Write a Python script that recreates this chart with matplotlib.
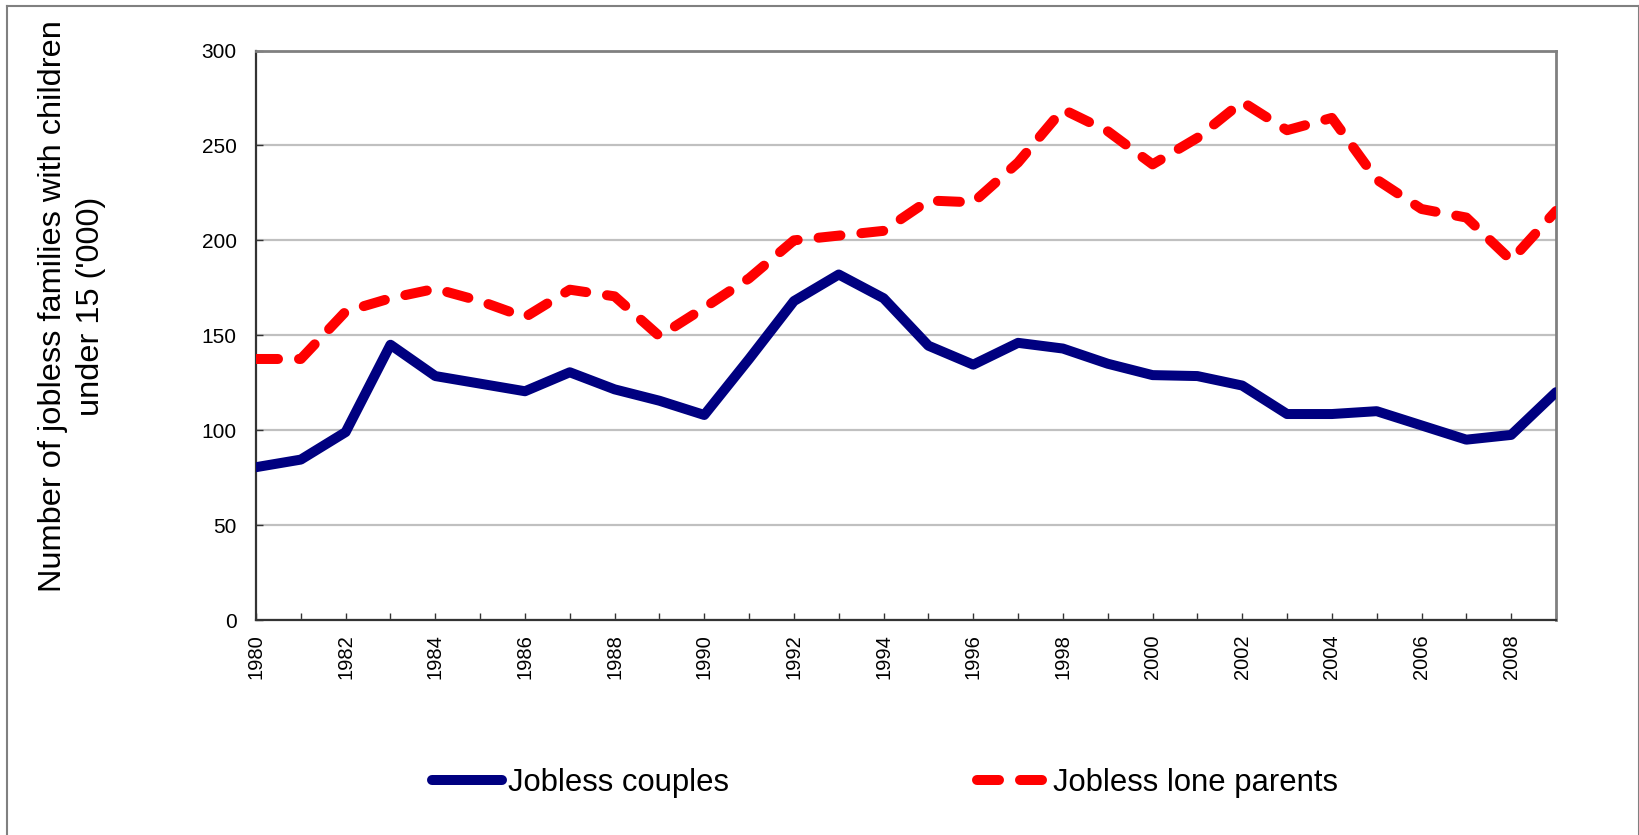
import matplotlib
matplotlib.use("Agg")
import matplotlib.pyplot as plt
from matplotlib.lines import Line2D

plt.rcParams['font.family'] = ['Liberation Sans', 'DejaVu Sans']

years = list(range(1980, 2010))
couples = [80.5, 84.5, 99, 145, 128.5, 124.5, 120.5, 130.5, 121.5, 115.5,
           108, 137.5, 168, 182, 169.5, 144.5, 134.5, 146, 143, 135,
           129, 128.5, 123.5, 108.5, 108.5, 110, 102.5, 95, 97.5, 120]
lone_parents = [137.5, 137.5, 162.5, 169.5, 174.5, 168, 159.5, 174, 170.5, 149.5,
                164.5, 180, 200, 202.5, 205, 221, 220, 241, 269, 257.5,
                240, 254, 273, 258, 264.5, 232, 216.5, 212, 189.5, 215.5]
labels = ["Jobless couples", "Jobless lone parents"]
y_ticks = [0, 50, 100, 150, 200, 250, 300]
x_label_years = list(range(1980, 2009, 2))
ylabel = "Number of jobless families with children\nunder 15 ('000)"

W, H = 1640, 835
fig = plt.figure(figsize=(W / 100, H / 100), dpi=100)
ax = fig.add_axes([256 / W, 1 - 620 / H, (1556 - 256) / W, (620 - 50.5) / H])

lw = 7.2
l1, = ax.plot(years, couples, color='#000080', lw=lw,
              solid_capstyle='round', solid_joinstyle='round', label=labels[0], zorder=3)
l2, = ax.plot(years, lone_parents, color='#FF0000', lw=lw, linestyle=(0, (2.2, 2.1)),
              dash_capstyle='round', dash_joinstyle='round', label=labels[1], zorder=3)

ax.set_xlim(1980, 2009)
ax.set_ylim(0, 300)
ax.set_yticks(y_ticks)
ax.set_xticks(x_label_years)
ax.set_xticks(years, minor=True)
ax.set_xticklabels([str(y) for y in x_label_years], rotation=90)
ax.tick_params(axis='x', which='both', direction='in', length=5, width=1, color='#333333')
ax.tick_params(axis='x', which='major', pad=10.5, labelsize=14.5)
ax.tick_params(axis='y', direction='in', length=5, width=1, color='#333333', pad=14, labelsize=15)

ax.grid(axis='y', color='#C0C0C0', lw=1.6)
ax.set_axisbelow(True)
for s in ['left', 'bottom']:
    ax.spines[s].set_color('#333333')
    ax.spines[s].set_linewidth(1.6)
for s in ['top', 'right']:
    ax.spines[s].set_color('#808080')
    ax.spines[s].set_linewidth(2)

fig.text(72 / W, 1 - 306 / H, ylabel, rotation=90, ha='center', va='center',
         multialignment='center', fontsize=23.4, linespacing=1.35)

fig.legend(handles=[l1, l2], labels=labels, loc='center',
           bbox_to_anchor=(0.5395, 1 - 783 / H), ncol=2, frameon=False, fontsize=22.3,
           handlelength=2.25, handletextpad=0.2, columnspacing=8.0)

# outer chart frame
fc = '#808080'
fig.add_artist(Line2D([7 / W, 7 / W], [0, 1 - 6 / H], transform=fig.transFigure, color=fc, lw=1.5))
fig.add_artist(Line2D([7 / W, 1639 / W], [1 - 6 / H, 1 - 6 / H], transform=fig.transFigure, color=fc, lw=1.5))
fig.add_artist(Line2D([1639 / W, 1639 / W], [0, 1 - 6 / H], transform=fig.transFigure, color=fc, lw=1.5))

fig.savefig("out.png", dpi=100)
